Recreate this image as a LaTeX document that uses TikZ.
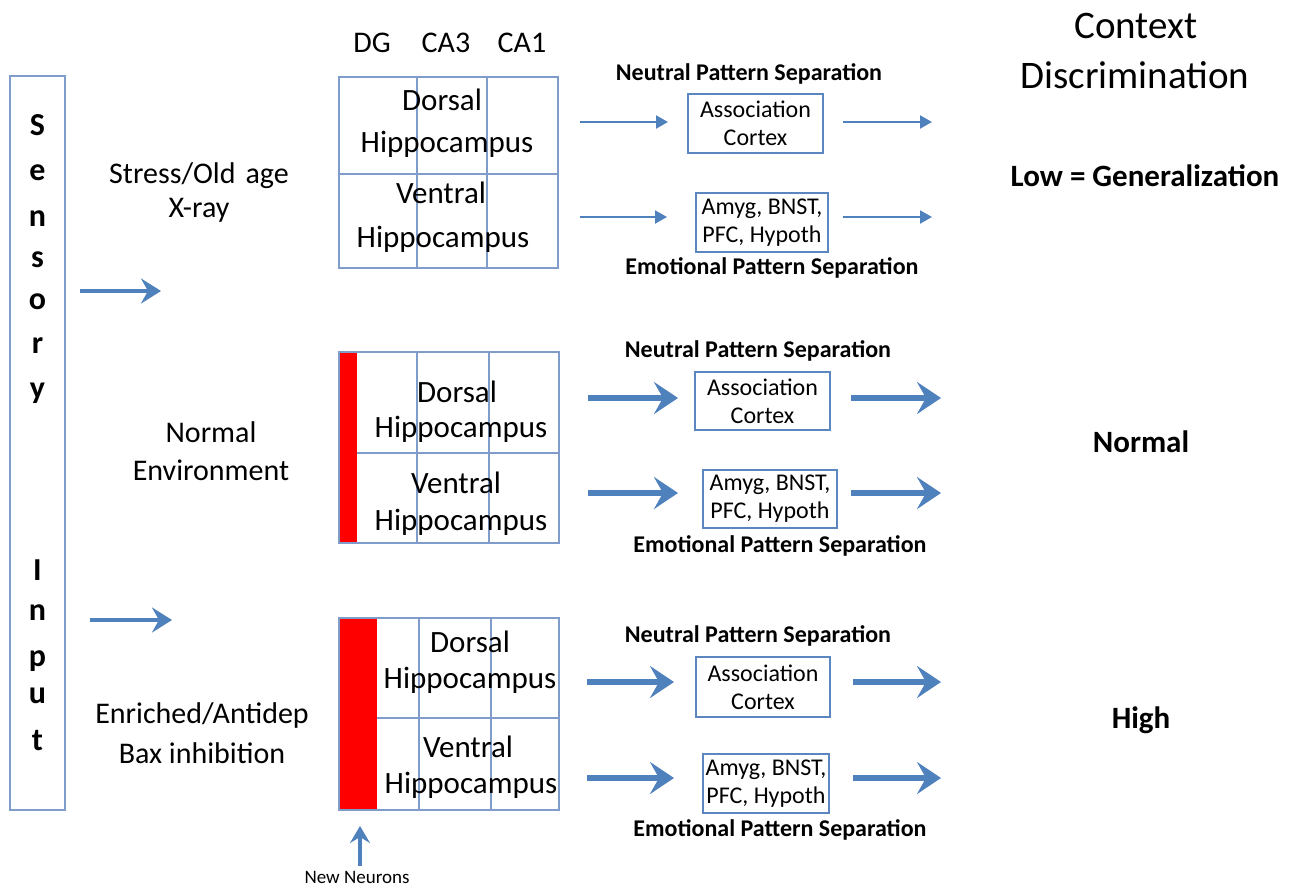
\documentclass[tikz,border=0pt]{standalone}
\usepackage{fontspec}
\setmainfont{Carlito}
\usetikzlibrary{arrows.meta}
\definecolor{arrc}{HTML}{4F81BD}
\definecolor{gridc}{HTML}{7F9CCB}
\definecolor{boxc}{HTML}{5B86C0}
\tikzset{
 txt/.style={font=\fontsize{30}{36}\selectfont, inner sep=0pt, anchor=base},
 hip/.style={font=\fontsize{31}{37}\selectfont, inner sep=0pt, anchor=base},
 lett/.style={font=\bfseries\fontsize{32}{36}\selectfont, inner sep=0pt, anchor=base},
 sepl/.style={font=\bfseries\fontsize{24}{28}\selectfont, inner sep=0pt, anchor=base},
 res/.style={font=\bfseries\fontsize{31}{36}\selectfont, inner sep=0pt, anchor=base},
 big/.style={font=\fontsize{39}{46}\selectfont, inner sep=0pt, anchor=base},
 regbox/.style={draw=boxc, line width=1.3pt, align=center, inner sep=0pt,
   font=\fontsize{24}{28}\selectfont},
 gridl/.style={draw=gridc, line width=1.2pt},
 thinarr/.style={draw=arrc, line width=2pt, -{Triangle[length=12pt,width=13pt]}},
 thickarr/.style={draw=arrc, line width=6.5pt, -{Stealth[length=24pt,width=32pt,inset=9pt]}},
 sensarr/.style={draw=arrc, line width=4.5pt, -{Stealth[length=20pt,width=25pt,inset=7pt]}},
}
\begin{document}
\begin{tikzpicture}[x=1pt,y=-1pt]
\useasboundingbox (0,0) rectangle (1295,889);
\fill[white] (0,0) rectangle (1295,889);

% Sensory input column
\draw[gridl, line width=1.5pt] (10,76) rectangle (65,810);
\foreach \l/\yy/\n in {S/135/s1,e/180/s2,n/226/s3,s/267/s4,o/309/s5,r/353/s6,y/398/s7,
  I/580/i1,n/620/i2,p/666/i3,u/703/i4,t/750/i5}
  \node[lett] (\n) at (37.5,\yy) {\l};

\coordinate (sa1) at (80,291);
\coordinate (sa1e) at (161,291);
\coordinate (sa2) at (90,620);
\coordinate (sa2e) at (172,620);
\draw[sensarr] (sa1) -- (sa1e);
\draw[sensarr] (sa2) -- (sa2e);

% Condition labels
\node[txt] (c1a) at (199,183) {Stress/Old\,\,age};
\node[txt] (c1b) at (199,217) {X-ray};
\node[txt] (c2a) at (211,442) {Normal};
\node[txt] (c2b) at (211,480) {Environment};
\node[txt] (c3a) at (202,723) {Enriched/Antidep};
\node[txt] (c3b) at (202,763) {Bax inhibition};

% Column headers
\node[txt] (hdg) at (372,52) {DG};
\node[txt] (hca3) at (446,52) {CA3};
\node[txt] (hca1) at (522,52) {CA1};

% Grid 1
\draw[gridl] (339,77) rectangle (558,268);
\draw[gridl] (339,174) -- (558,174);
\draw[gridl] (417,77) -- (417,268);
\draw[gridl] (487,77) -- (487,268);
\node[hip] (g1d) at (442,110) {Dorsal};
\node[hip] (g1h) at (447,152) {Hippocampus};
\node[hip] (g1v) at (441,203) {Ventral};
\node[hip] (g1w) at (443,247) {Hippocampus};

% Grid 2
\fill[red] (339,352) rectangle (357,543);
\draw[gridl] (339,352) rectangle (559,543);
\draw[gridl] (357,453) -- (559,453);
\draw[gridl] (417,352) -- (417,543);
\draw[gridl] (489,352) -- (489,543);
\node[hip] (g2d) at (457,402) {Dorsal};
\node[hip] (g2h) at (461,437) {Hippocampus};
\node[hip] (g2v) at (456,493) {Ventral};
\node[hip] (g2w) at (461,530) {Hippocampus};

% Grid 3
\fill[red] (339,618) rectangle (377,810);
\draw[gridl] (339,618) rectangle (559,810);
\draw[gridl] (377,718) -- (559,718);
\draw[gridl] (419,618) -- (419,810);
\draw[gridl] (491,618) -- (491,810);
\node[hip] (g3d) at (470,652) {Dorsal};
\node[hip] (g3h) at (470,688) {Hippocampus};
\node[hip] (g3v) at (468,757) {Ventral};
\node[hip] (g3w) at (471,793) {Hippocampus};

% New neurons
\node[font=\fontsize{19}{22}\selectfont, inner sep=0pt, anchor=base] (nn) at (357,883) {New Neurons};
\coordinate (nnb) at (360,866);
\coordinate (nnt) at (360,826);
\draw[draw=arrc, line width=4pt, -{Stealth[length=17pt,width=20pt,inset=6pt]}] (nnb) -- (nnt);

% Group 1
\node[sepl] (n1) at (749,80) {Neutral Pattern Separation};
\node[regbox, minimum width=135pt, minimum height=59pt] (ac1) at (755.5,123.5) {Association\\Cortex};
\node[regbox, minimum width=132pt, minimum height=59pt] (am1) at (762,222.5) {Amyg, BNST,\\PFC, Hypoth};
\node[sepl] (e1) at (772,274) {Emotional Pattern Separation};
\coordinate (p1a) at (580,122); \coordinate (p1b) at (668,122);
\coordinate (p1c) at (843,122); \coordinate (p1d) at (932,122);
\coordinate (p1e) at (580,217); \coordinate (p1f) at (667,217);
\coordinate (p1g) at (843,217); \coordinate (p1h) at (932,217);
\draw[thinarr] (p1a) -- (p1b);
\draw[thinarr] (p1c) -- (p1d);
\draw[thinarr] (p1e) -- (p1f);
\draw[thinarr] (p1g) -- (p1h);

% Group 2
\node[sepl] (n2) at (758,357) {Neutral Pattern Separation};
\node[regbox, minimum width=135pt, minimum height=58pt] (ac2) at (762.5,401) {Association\\Cortex};
\node[regbox, minimum width=134pt, minimum height=58pt] (am2) at (770,499) {Amyg, BNST,\\PFC, Hypoth};
\node[sepl] (e2) at (780,552) {Emotional Pattern Separation};
\coordinate (p2a) at (588,398); \coordinate (p2b) at (678,398);
\coordinate (p2c) at (851,398); \coordinate (p2d) at (941,398);
\coordinate (p2e) at (588,493); \coordinate (p2f) at (678,493);
\coordinate (p2g) at (851,493); \coordinate (p2h) at (941,493);
\draw[thickarr] (p2a) -- (p2b);
\draw[thickarr] (p2c) -- (p2d);
\draw[thickarr] (p2e) -- (p2f);
\draw[thickarr] (p2g) -- (p2h);

% Group 3
\node[sepl] (n3) at (758,642) {Neutral Pattern Separation};
\node[regbox, minimum width=134pt, minimum height=60pt] (ac3) at (763,687) {Association\\Cortex};
\node[regbox, minimum width=126pt, minimum height=59pt] (am3) at (766,783.5) {Amyg, BNST,\\PFC, Hypoth};
\node[sepl] (e3) at (780,836) {Emotional Pattern Separation};
\coordinate (p3a) at (587,682); \coordinate (p3b) at (674,682);
\coordinate (p3c) at (853,682); \coordinate (p3d) at (941,682);
\coordinate (p3e) at (587,778); \coordinate (p3f) at (674,778);
\coordinate (p3g) at (853,778); \coordinate (p3h) at (941,778);
\draw[thickarr] (p3a) -- (p3b);
\draw[thickarr] (p3c) -- (p3d);
\draw[thickarr] (p3e) -- (p3f);
\draw[thickarr] (p3g) -- (p3h);

% Right column
\node[big] (ctx) at (1136,38) {Context};
\node[big] (dsc) at (1135,88) {Discrimination};
\node[res] (low) at (1145,186) {Low = Generalization};
\node[res] (nrm) at (1141,452) {Normal};
\node[res] (hgh) at (1141,728) {High};
\end{tikzpicture}
\end{document}
